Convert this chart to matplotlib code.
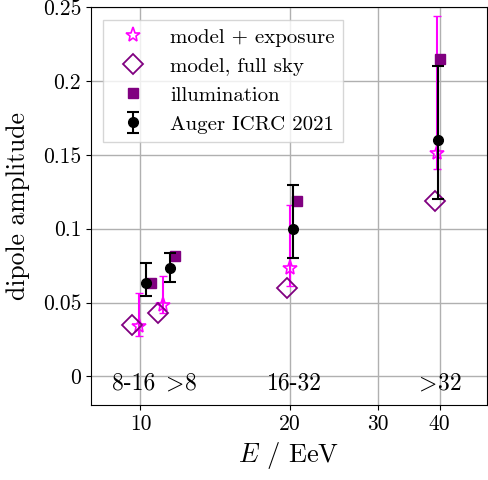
import matplotlib
matplotlib.use("Agg")
import matplotlib.pyplot as plt
import numpy as np

plt.rcParams['font.family'] = ['cmr10', 'DejaVu Serif']
plt.rcParams['mathtext.fontset'] = 'cm'
plt.rcParams['axes.formatter.use_mathtext'] = True

# model + exposure
exp_x = [9.95, 11.1, 20.0, 39.5]
exp_y = [0.034, 0.048, 0.0735, 0.151]
exp_lo = [0.0065, 0.005, 0.012, 0.0105]
exp_hi = [0.0225, 0.020, 0.0425, 0.093]

# model, full sky
full_x = [9.6, 10.87, 19.7, 39.2]
full_y = [0.0345, 0.0426, 0.060, 0.119]

# illumination
ill_x = [10.52, 11.76, 20.66, 40.0]
ill_y = [0.063, 0.0818, 0.119, 0.215]

# Auger ICRC 2021
aug_x = [10.28, 11.44, 20.28, 39.6]
aug_y = [0.0635, 0.0736, 0.100, 0.160]
aug_lo = [0.009, 0.0094, 0.0196, 0.040]
aug_hi = [0.013, 0.0102, 0.0297, 0.050]

bin_labels = ["8-16", r"$\!>\!$8", "16-32", r"$\!>\!$32"]
bin_x = [9.7, 12.1, 20.4, 40.0]

xticks = [10, 20, 30, 40]
yticks = [0, 0.05, 0.1, 0.15, 0.2, 0.25]
ytick_labels = ["0", "0.05", "0.1", "0.15", "0.2", "0.25"]

fig = plt.figure(figsize=(4.89, 4.80), dpi=100)
ax = fig.add_axes([0.186, 0.156, 0.810, 0.829])

magenta = '#ff00ff'
purple = '#800080'

ax.errorbar(exp_x, exp_y, yerr=[exp_lo, exp_hi], fmt='none', ecolor=magenta,
            capsize=3, elinewidth=1.5, zorder=3)
h_exp, = ax.plot(exp_x, exp_y, '*', mfc='none', mec=magenta, ms=11, mew=1.2,
                 label='model + exposure', zorder=3)
h_full, = ax.plot(full_x, full_y, 'D', mfc='none', mec=purple, ms=10, mew=1.3,
                  label='model, full sky', zorder=3)
h_ill, = ax.plot(ill_x, ill_y, 's', color=purple, ms=7, label='illumination', zorder=4)
h_aug = ax.errorbar(aug_x, aug_y, yerr=[aug_lo, aug_hi], fmt='o', color='black',
                    ms=7, capsize=4, elinewidth=1.5, capthick=1.5,
                    label='Auger ICRC 2021', zorder=5)

for lx, lab in zip(bin_x, bin_labels):
    ax.text(lx, -0.0047, lab, ha='center', va='center', fontsize=17)

ax.set_xscale('log')
ax.set_xlim(7.95, 49.8)
ax.set_ylim(-0.0195, 0.25)
ax.set_xticks(xticks)
ax.set_xticklabels([str(t) for t in xticks])
ax.xaxis.set_minor_locator(matplotlib.ticker.NullLocator())
ax.set_yticks(yticks)
ax.set_yticklabels(ytick_labels)
ax.tick_params(labelsize=15.5)
ax.grid(True, color='#b0b0b0', linewidth=1.0)
ax.set_axisbelow(True)

ax.set_xlabel(r'$E$ / EeV', fontsize=19)
ax.set_ylabel('dipole amplitude', fontsize=18.5, labelpad=9)

ax.legend(handles=[h_exp, h_full, h_ill, h_aug], loc='upper left', fontsize=15,
          frameon=True, fancybox=False, borderaxespad=0.6, handletextpad=0.8,
          labelspacing=0.5)

fig.savefig('out.png', dpi=100)
